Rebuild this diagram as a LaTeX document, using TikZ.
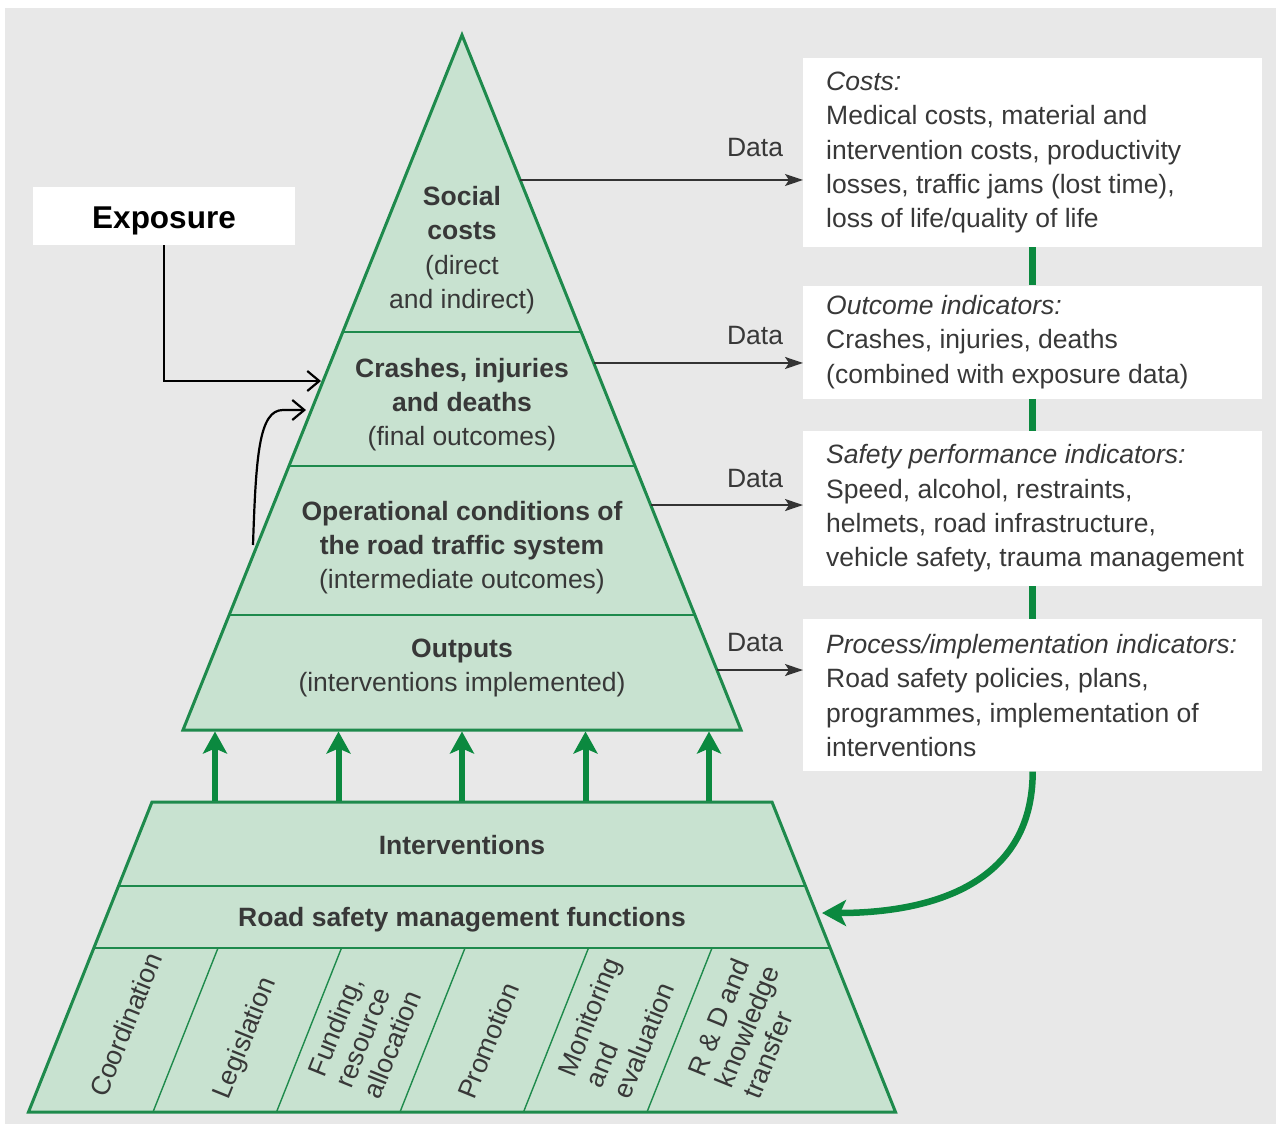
\documentclass[tikz,border=0pt]{standalone}
\usepackage{fontspec}
\setmainfont{Liberation Sans}
\usetikzlibrary{arrows.meta,positioning,calc}

\begin{document}
\begin{tikzpicture}[x=1pt,y=-1pt]
\definecolor{back gray}{HTML}{E8E8E8}
\definecolor{layer area}{HTML}{C8E2D0}
\definecolor{layer edge}{HTML}{1E8A4C}
\definecolor{flow green}{HTML}{0B893F}
\definecolor{label gray}{HTML}{383838}
\tikzset{
     txt/.style={text=label gray, font=\fontsize{26.5}{34.3}\selectfont, inner sep=0pt, align=center},
     layer/.style={fill=layer area, draw=layer edge, line width=3pt},
     divider/.style={draw=layer edge, line width=2pt},
     thin divider/.style={draw=layer edge, line width=1.4pt},
     push/.style={draw=flow green, line width=6pt, -{Stealth[length=22pt,width=24pt,inset=5pt]}},
     feedback/.style={draw=flow green, line width=6.5pt},
     infobox/.style={fill=white, minimum width=459pt, inner sep=0pt},
     data/.style={draw=black!80, line width=1.8pt, -{Stealth[length=18pt,width=12pt,inset=4pt]}},
     expo/.style={fill=white, minimum width=262pt, minimum height=58pt, inner sep=0pt,
                  text height=24.6pt, text depth=0pt,
                  font=\fontsize{31.5}{36}\selectfont\bfseries},
     exparrow/.style={draw=black, line width=2.2pt, -{Straight Barb[length=12pt,width=20pt]}},
     colabel/.style={txt, rotate=68, align=left, font=\fontsize{26.8}{30}\selectfont}}

\useasboundingbox (0,0) rectangle (1276,1124);
\fill[white] (0,0) rectangle (1276,1124);
\fill[back gray] (5,8) rectangle (1276,1124);

% The pyramid
\coordinate (apex) at (462,35);
\coordinate (leftfoot) at (183,730);
\coordinate (rightfoot) at (741,730);
\draw[layer] (apex) -- (rightfoot) -- (leftfoot) -- cycle;
\foreach \r in {0.4273,0.6201,0.8345}
  \draw[divider] ($(apex)!\r!(leftfoot)$) -- ($(apex)!\r!(rightfoot)$);

% The base
\coordinate (topleft) at (152,802);
\coordinate (topright) at (772,802);
\coordinate (baseleft) at (28.5,1112);
\coordinate (baseright) at (895.5,1112);
\draw[layer] (topleft) -- (topright) -- (baseright) -- (baseleft) -- cycle;
\foreach \r in {0.271,0.471}
  \draw[divider] ($(topleft)!\r!(baseleft)$) -- ($(topright)!\r!(baseright)$);
\foreach \i in {0,...,4}
  \draw[thin divider] (218+123.5*\i,948) -- (153+123.5*\i,1112);

% The labels
\node[txt] (social) at (462,250) {\textbf{Social}\\\textbf{costs}\\(direct\\and indirect)};
\node[txt] (crashes) at (462,404.5) {\textbf{Crashes, injuries}\\\textbf{and deaths}\\(final outcomes)};
\node[txt] (operational) at (462,547.5) {\textbf{Operational conditions of}\\\textbf{the road traffic system}\\(intermediate outcomes)};
\node[txt] (outputs) at (462,668) {\textbf{Outputs}\\(interventions implemented)};
\node[txt] (interventions) at (462,845) {\textbf{Interventions}};
\node[txt] (functions) at (462,919.5) {\textbf{Road safety management functions}};

\node[colabel, anchor=base west] (coordination) at (106,1099) {Coordination};
\node[colabel, anchor=base west] (legislation) at (228,1101) {Legislation};
\node[colabel, anchor=south west] (funding) at (380,1101) {Funding,\\resource\\allocation};
\node[colabel, anchor=base west] (promotion) at (474,1101) {Promotion};
\node[colabel, anchor=south west] (monitoring) at (630,1101) {Monitoring\\and\\evaluation};
\node[colabel, anchor=south west] (research) at (760,1101) {R \& D and\\knowledge\\transfer};

% The arrows from the interventions
\coordinate (outbase) at (462,731.5);
\coordinate (intop) at (462,800.5);
\foreach \dx in {-247,-123.5,0,123.5,247}
  \draw[push] ([xshift=\dx pt]intop) -- ([xshift=\dx pt]outbase);

% The indicator boxes
\node[infobox, minimum height=189pt, anchor=north west] (costs) at (803,58) {};
\node[infobox, minimum height=113pt, below=38pt of costs] (outcome) {};
\node[infobox, minimum height=155pt, below=32pt of outcome] (spi) {};
\node[infobox, minimum height=152pt, below=33pt of spi] (process) {};

\node[txt, align=left, anchor=west] (coststext) at ([xshift=23pt]costs.west)
  {\textit{Costs:}\\Medical costs, material and\\intervention costs, productivity\\losses, traffic jams (lost time),\\loss of life/quality of life};
\node[txt, align=left, anchor=west] (outcometext) at ([xshift=23pt]outcome.west)
  {\textit{Outcome indicators:}\\Crashes, injuries, deaths\\(combined with exposure data)};
\node[txt, align=left, anchor=west] (spitext) at ([xshift=23pt]spi.west)
  {\textit{Safety performance indicators:}\\Speed, alcohol, restraints,\\helmets, road infrastructure,\\vehicle safety, trauma management};
\node[txt, align=left, anchor=west] (processtext) at ([xshift=23pt]process.west)
  {\textit{Process/implementation indicators:}\\Road safety policies, plans,\\programmes, implementation of\\interventions};

% The data arrows
\foreach \r/\bx/\up [count=\k] in {0.2086/costs/32,0.4719/outcome/27,0.6763/spi/27,0.9137/process/28} {
  \coordinate (edge\k) at ($(apex)!\r!(rightfoot)$);
  \draw[data] (edge\k) -- (edge\k -| \bx.west);
  \node[txt] (data\k) at ($(edge\k -| \bx.west)+(-48,-\up)$) {Data};
}

% The feedback loop
\draw[feedback] (costs.south) -- (outcome.north)
                (outcome.south) -- (spi.north)
                (spi.south) -- (process.north);
\coordinate (funcin) at (822,913);
\draw[feedback, -{Stealth[length=24pt,width=26pt,inset=6pt]}]
  (process.south) .. controls +(0,115) and +(105,0) .. (funcin);

% Exposure
\node[expo] (exposure) at (164,216) {Exposure};
\coordinate (crashin) at (321,381);
\draw[exparrow] (exposure.south) |- (crashin);
\coordinate (opfoot) at (253,545);
\coordinate (crashin2) at (306,410);
\draw[exparrow] (opfoot) .. controls (256,455) and (259,410) .. (283,410) -- (crashin2);
\end{tikzpicture}
\end{document}
